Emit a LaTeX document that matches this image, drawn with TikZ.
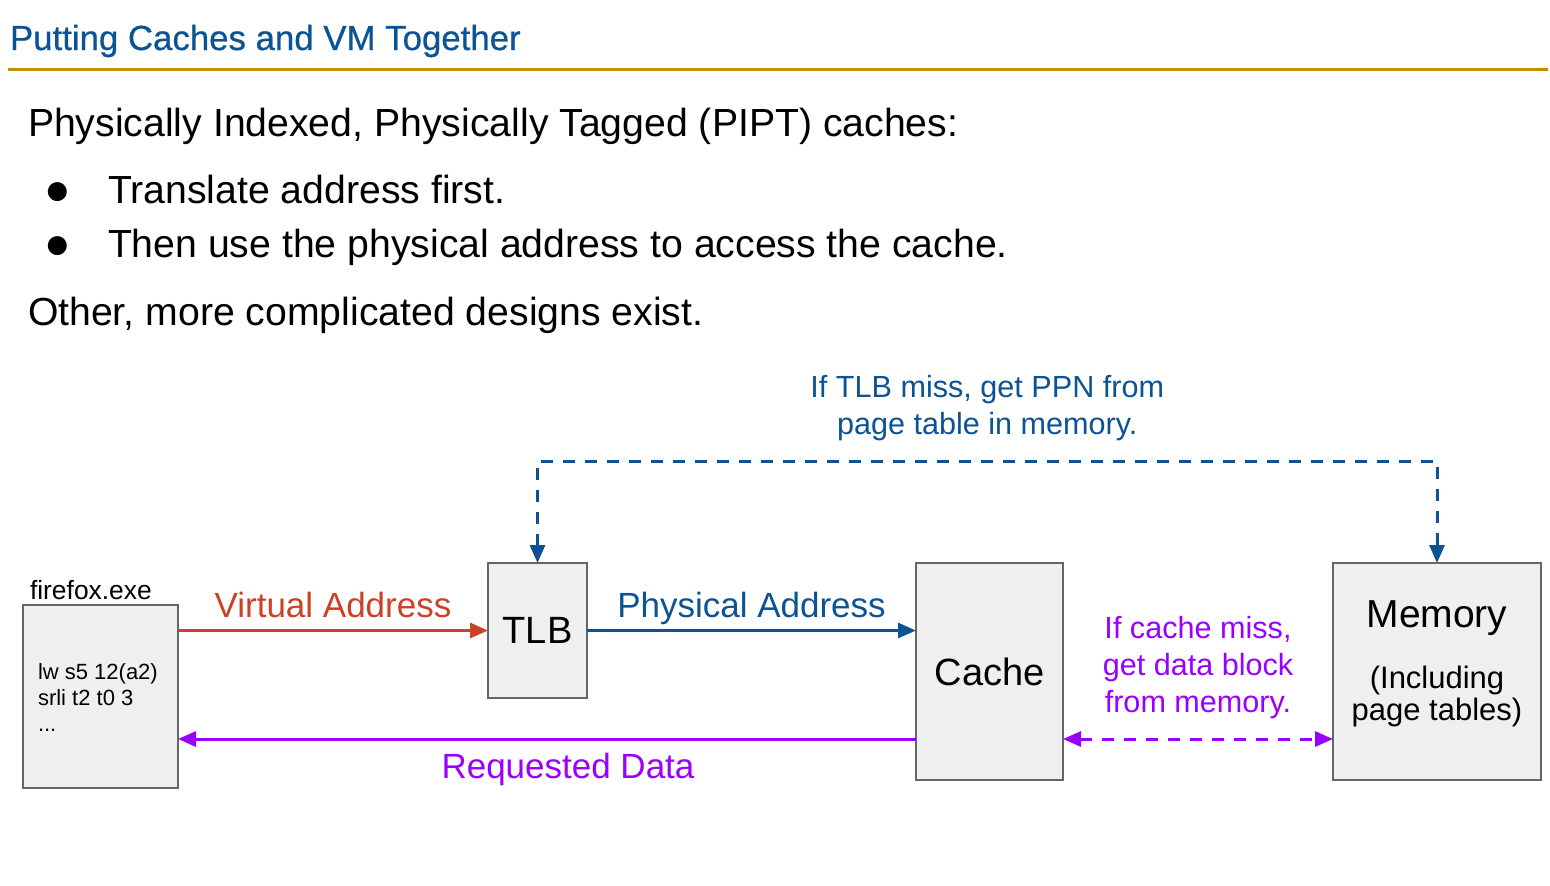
\documentclass[tikz,border=0pt]{standalone}
\usepackage{fontspec}
\setmainfont{Liberation Sans}
\usetikzlibrary{arrows.meta}
\definecolor{slideblue}{HTML}{0B5394}
\definecolor{slidegold}{HTML}{BF9000}
\definecolor{slidered}{HTML}{CC4125}
\definecolor{slidepurple}{HTML}{9900FF}
\definecolor{boxfill}{HTML}{EFEFEF}
\definecolor{boxedge}{HTML}{666666}

\begin{document}
\begin{tikzpicture}[x=0.5pt, y=-0.5pt, >={Triangle[length=9pt, width=7.5pt]},
                    every node/.style={inner sep=0pt, outer sep=0pt},
                    unitbox/.style={draw=boxedge, fill=boxfill, line width=1pt, align=center},
                    flow/.style={line width=1.5pt, ->},
                    miss/.style={line width=1.5pt, dash pattern=on 6pt off 5pt},
                    bodytext/.style={anchor=base west, font=\fontsize{19.6}{23}\selectfont},
                    tagtext/.style={font=\fontsize{17.5}{21}\selectfont},
                    notetext/.style={align=center, font=\fontsize{15.3}{18.5}\selectfont}]

  \useasboundingbox (0,0) rectangle (1550,885);

  %% 標題與底線
  \node[anchor=base west, slideblue, font=\fontsize{17.4}{22}\selectfont\addfontfeature{FakeBold=0.6}]
    (title) at (10,50) {Putting Caches and VM Together};
  \draw[slidegold, line width=1.5pt] (8,69) -- (1548,69);

  %% 本文與項目
  \node[bodytext] (intro) at (28,136) {Physically Indexed, Physically Tagged (PIPT) caches:};
  \node[bodytext] (dotA) at (44,204) {\fontsize{22}{22}\selectfont ●};
  \node[bodytext] (itemA) at (108,203) {Translate address first.};
  \node[bodytext] (dotB) at (44,258) {\fontsize{22}{22}\selectfont ●};
  \node[bodytext] (itemB) at (108,257) {Then use the physical address to access the cache.};
  \node[bodytext] (other) at (28,325) {Other, more complicated designs exist.};

  %% 四個方塊
  \node[unitbox, minimum width=77.5pt, minimum height=91.5pt] (firefox) at (100.5,696.5) {};
  \node[unitbox, minimum width=49.5pt, minimum height=67.5pt,
        font=\fontsize{19}{24}\selectfont] (tlb) at (537.5,630.5) {TLB};
  \node[unitbox, minimum width=73.5pt, minimum height=108.5pt,
        font=\fontsize{19}{24}\selectfont] (cache) at (989.5,671.5) {Cache};
  \node[unitbox, minimum width=104pt, minimum height=108.5pt] (memory) at (1437,671.5) {};

  %% 方塊內外的文字
  \node[anchor=base west, font=\fontsize{13.2}{15}\selectfont] (exe) at (30,599) {firefox.exe};
  \node[anchor=base west, align=left, font=\fontsize{11}{12.8}\selectfont] (code) at (38,731)
    {lw s5 12(a2)\\srli t2 t0 3\\...};
  \node[anchor=base, font=\fontsize{19.5}{23}\selectfont] (memname) at (1437,627) {Memory};
  \node[anchor=base, align=center, font=\fontsize{15.5}{16}\selectfont] (memnote) at (1437,720)
    {(Including\\page tables)};

  %% 輔助座標
  \coordinate (datay) at (0,739);
  \coordinate (missy) at (0,461);

  %% 主要資料流
  \draw[flow, slidered] (firefox.east |- tlb.west) -- (tlb.west)
    node[midway, anchor=base, yshift=6.5pt, tagtext] (va) {Virtual Address};
  \draw[flow, slideblue] (tlb.east) -- (cache.west |- tlb.east)
    node[midway, anchor=base, yshift=6.5pt, tagtext] (pa) {Physical Address};
  \draw[flow, slidepurple] (cache.west |- datay) -- (firefox.east |- datay)
    node[midway, anchor=base, yshift=-19.5pt, xshift=10.5pt, tagtext] (rd) {Requested Data};

  %% 缺失時的路徑
  \draw[miss, slidepurple, <->] (cache.east |- datay) -- (memory.west |- datay)
    node[midway, anchor=south, yshift=10pt, notetext] (cmiss)
    {If cache miss,\\get data block\\from memory.};
  \draw[miss, slideblue, <->] (tlb.north) -- (tlb.north |- missy)
    -- (memory.north |- missy) node[midway, anchor=south, yshift=10pt, notetext] (tmiss)
    {If TLB miss, get PPN from\\page table in memory.}
    -- (memory.north);

\end{tikzpicture}
\end{document}
